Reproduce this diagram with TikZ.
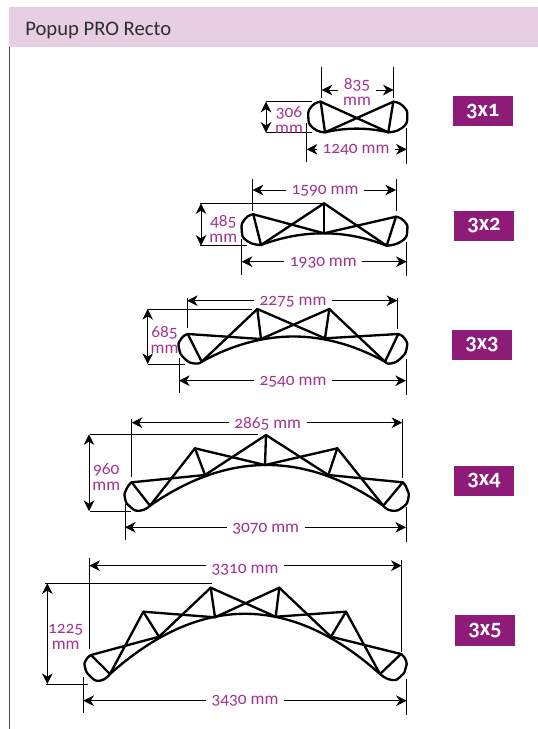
\documentclass[tikz,border=0pt]{standalone}
\usepackage{fontspec}
\setmainfont{Carlito}[Numbers=OldStyle]
\usetikzlibrary{arrows.meta}
\definecolor{band}{HTML}{E6CFE3}
\definecolor{badge}{HTML}{8E1B78}
\definecolor{lbl}{HTML}{A2338F}
\definecolor{ttl}{HTML}{2E2E2E}
\tikzset{
  truss/.style={line width=1.75pt,line join=round,line cap=round,black},
  extline/.style={line width=.75pt,black},
  dimarrow/.style={line width=.75pt,black,-{Stealth[length=8pt,width=8pt,inset=2.5pt]}},
  dimtwo/.style={line width=.75pt,black,{Stealth[length=8pt,width=8pt,inset=2.5pt]}-{Stealth[length=8pt,width=8pt,inset=2.5pt]}},
  dimlabel/.style={text=lbl,font=\fontsize{13}{12}\selectfont,align=center,inner sep=0pt,inner xsep=4pt,yshift=-.8pt},
  sizebadge/.style={fill=badge,text=white,font=\fontsize{17}{17}\bfseries\selectfont,minimum width=45pt,minimum height=22.7pt,inner sep=0pt},
}
% horizontal dimension: prefix, left x, right x, y, label position, text
\newcommand\hdim[6]{%
  \coordinate (#1l) at (#2,#4);\coordinate (#1r) at (#3,#4);
  \node[dimlabel] (#1t) at (#5) {#6};
  \draw[dimarrow] (#1t.west |- #1l) -- (#1l);
  \draw[dimarrow] (#1t.east |- #1r) -- (#1r);}
% extension line: prefix, from, to
\newcommand\extl[3]{%
  \coordinate (#1a) at (#2);\coordinate (#1b) at (#3);
  \draw[extline] (#1a) -- (#1b);}
\newcommand\tr[2]{\draw[truss] (#1) -- (#2);}
\newcommand\lobe[1]{\draw[truss] plot[smooth,tension=1] coordinates {#1};}
\begin{document}
\begin{tikzpicture}[x=.75pt,y=-.75pt]
\useasboundingbox (0,0) rectangle (538,729);
\fill[white] (0,0) rectangle (538,729);
\node[fill=band,minimum width=396.75pt,minimum height=30pt,inner sep=0pt,anchor=north west] (head) at (9,7) {};
\node[anchor=west,text=ttl,font=\fontsize{15.5}{15.5}\selectfont,inner sep=0pt] (title) at (25,30) {Popup PRO Recto};
\coordinate (ra) at (9.5,47);\coordinate (rb) at (9.5,729);
\draw[line width=.75pt,black!70] (ra) -- (rb);

% ---------- 3x1
\coordinate (aLT) at (320.7,101.7);\coordinate (aLB) at (325,132.3);
\coordinate (aRT) at (393.3,101.7);\coordinate (aRB) at (388.3,132.3);
\lobe{(320.7,101.7)(312,106)(308.3,116.7)(313,128)(325,132.3)}
\lobe{(393.3,101.7)(403,106)(407.3,116.7)(402,128)(388.3,132.3)}
\draw[truss] (aLB) .. controls (346,127.4) and (367,127.4) .. (aRB);
\tr{aLT}{aLB}\tr{aRT}{aRB}\tr{aLT}{aRB}\tr{aRT}{aLB}
\extl{ae1}{321.7,66.7}{321.7,98.3}\extl{ae2}{393.7,66.7}{393.7,98.3}
\hdim{at}{321.7}{393.7}{90}{357,91}{835\\mm}
\extl{ae3}{266,101.7}{311.7,101.7}\extl{ae4}{266,132.7}{312,132.7}
\coordinate (avt) at (266,101.7);\coordinate (avb) at (266,132.7);
\draw[dimtwo] (avt) -- (avb);
\node[dimlabel] (avl) at (289,119) {306\\mm};
\extl{ae5}{306.7,123}{306.7,162.3}\extl{ae6}{406.7,128}{406.7,164.3}
\hdim{ab}{306.7}{406.7}{149.3}{356,148.5}{1240 mm}
\node[sizebadge] (b1) at (482.7,111.3) {3x1};

% ---------- 3x2
\coordinate (bLT) at (253.3,214.3);\coordinate (bLB) at (261,245);
\coordinate (bRT) at (396,216.7);\coordinate (bRB) at (386.7,245.7);
\coordinate (bA) at (324,203.3);\coordinate (bM) at (324,233.3);
\lobe{(253.3,214.3)(245,219)(241.7,230)(247,241)(261,245)}
\lobe{(396,216.7)(404,221)(407.3,230)(402,241)(386.7,245.7)}
\draw[truss] (bLB) .. controls (303,229.3) and (345,229.3) .. (bRB);
\tr{bLT}{bLB}\tr{bRT}{bRB}\tr{bLB}{bA}\tr{bA}{bRB}\tr{bA}{bM}\tr{bLT}{bM}\tr{bRT}{bM}
\extl{be1}{252.7,179.3}{252.7,210.7}\extl{be2}{396,179.3}{396,210.7}
\hdim{bt}{252.7}{396}{190}{325,189.3}{1590 mm}
\extl{be3}{200,203.3}{321.7,203.3}\extl{be4}{200,245.7}{247.3,245.7}
\coordinate (bvt) at (201,203.3);\coordinate (bvb) at (201,245.7);
\draw[dimtwo] (bvt) -- (bvb);
\node[dimlabel] (bvl) at (223.3,228) {485\\mm};
\extl{be5}{241.7,239.3}{241.7,275}\extl{be6}{406.7,241.7}{406.7,276}
\hdim{bb}{241.7}{406.7}{261.7}{323.3,261.7}{1930 mm}
\node[sizebadge] (b2) at (484,226) {3x2};

% ---------- 3x3
\coordinate (cLT) at (187.7,334);\coordinate (cLB) at (201.7,361.7);
\coordinate (cRT) at (398.3,334);\coordinate (cRB) at (385,361.7);
\coordinate (cA1) at (257.3,309);\coordinate (cA2) at (329.3,309);
\coordinate (cM1) at (261,339);\coordinate (cM2) at (325,338.3);
\lobe{(187.7,334)(181,339)(179,348.3)(185,359)(195,363.5)(201.7,361.7)}
\lobe{(398.3,334)(405,339)(406.7,348.3)(401,358)(391,363.5)(385,361.7)}
\draw[truss] (cLB) .. controls (262.8,328.1) and (323.9,328.1) .. (cRB);
\tr{cLT}{cLB}\tr{cRT}{cRB}\tr{cLT}{cM1}\tr{cRT}{cM2}
\tr{cA1}{cLB}\tr{cA1}{cM1}\tr{cA1}{cM2}\tr{cA2}{cM1}\tr{cA2}{cM2}\tr{cA2}{cRB}
\extl{ce1}{187,297.7}{187,328.3}\extl{ce2}{397.3,298.3}{397.3,329}
\hdim{ct}{187}{397.3}{300.7}{293,300.7}{2275 mm}
\extl{ce3}{148.3,309}{251.7,309}\extl{ce4}{148.3,364}{185,364}
\coordinate (cvt) at (147.7,309);\coordinate (cvb) at (147.7,364);
\draw[dimtwo] (cvt) -- (cvb);
\node[dimlabel] (cvl) at (164.5,338.5) {685\\mm};
\extl{ce5}{179,357.7}{179,393.3}\extl{ce6}{406,359}{406,395}
\hdim{cb}{179}{406}{380.7}{293,380.7}{2540 mm}
\node[sizebadge] (b3) at (482,345) {3x3};

% ---------- 3x4
\coordinate (dLT) at (131.7,482.3);\coordinate (dLB) at (150,505.7);
\coordinate (dRT) at (402.7,482.3);\coordinate (dRB) at (383.3,505.7);
\coordinate (dA1) at (195,448.3);\coordinate (dA2) at (266,435);\coordinate (dA3) at (337.3,448.3);
\coordinate (dM1) at (205,475);\coordinate (dM2) at (265,465);\coordinate (dM3) at (328.3,475);
\lobe{(131.7,482.3)(126.5,489)(125,498.3)(130.5,507)(140,510.7)(150,505.7)}
\lobe{(402.7,482.3)(407,489)(408.3,498.3)(403,507)(392,510.7)(383.3,505.7)}
\draw[truss] (dLB) .. controls (227.8,451.4) and (305.5,451.4) .. (dRB);
\tr{dLT}{dLB}\tr{dRT}{dRB}\tr{dLT}{dM1}\tr{dRT}{dM3}
\tr{dA1}{dLB}\tr{dA1}{dM1}\tr{dA1}{dM2}\tr{dA2}{dM1}\tr{dA2}{dM2}\tr{dA2}{dM3}
\tr{dA3}{dM2}\tr{dA3}{dM3}\tr{dA3}{dRB}
\extl{de1}{131.7,419}{131.7,476.7}\extl{de2}{402.3,419}{402.3,477.7}
\hdim{dt}{131.7}{402.3}{422.7}{267.7,422.3}{2865 mm}
\extl{de3}{90,434.3}{258.3,434.3}\extl{de4}{90,511}{130.7,511}
\coordinate (dvt) at (89,434.3);\coordinate (dvb) at (89,511);
\draw[dimtwo] (dvt) -- (dvb);
\node[dimlabel] (dvl) at (106.3,475.5) {960\\mm};
\extl{de5}{125,504.3}{125,540}\extl{de6}{406,506.7}{406,541.7}
\hdim{db}{125}{406}{527.3}{265.7,527.3}{3070 mm}
\node[sizebadge] (b4) at (484,481) {3x4};

% ---------- 3x5
\coordinate (eLT) at (91,655);\coordinate (eLB) at (110,674);
\coordinate (eRT) at (401,654);\coordinate (eRB) at (380,674);
\coordinate (eA1) at (143.3,611.7);\coordinate (eA2) at (210.7,587.7);
\coordinate (eA3) at (279.3,587.7);\coordinate (eA4) at (346,611.7);
\coordinate (eM1) at (159,636.7);\coordinate (eM2) at (215,617.3);
\coordinate (eM3) at (275.7,616.7);\coordinate (eM4) at (331,636.7);
\lobe{(91,655)(86,660)(85,667)(90,676)(100,680.7)(110,674)}
\lobe{(401,654)(405.7,660)(405.7,668)(401,676)(391.7,680)(380,674)}
\draw[truss] (eLB) .. controls (200,593.7) and (290,593.7) .. (eRB);
\tr{eLT}{eLB}\tr{eRT}{eRB}\tr{eLT}{eM1}\tr{eRT}{eM4}
\tr{eA1}{eLB}\tr{eA1}{eM1}\tr{eA1}{eM2}\tr{eA2}{eM1}\tr{eA2}{eM2}\tr{eA2}{eM3}
\tr{eA3}{eM2}\tr{eA3}{eM3}\tr{eA3}{eM4}\tr{eA4}{eM3}\tr{eA4}{eM4}\tr{eA4}{eRB}
\extl{ee1}{89.3,558.3}{89.3,649.3}\extl{ee2}{401.7,560}{401.7,651.7}
\hdim{et}{89.3}{401.7}{565.7}{245,568.3}{3310 mm}
\extl{ee3}{45,583.3}{211.7,583.3}\extl{ee4}{46,684}{88.3,684}
\coordinate (evt) at (47.3,583.3);\coordinate (evb) at (47.3,684);
\draw[dimtwo] (evt) -- (evb);
\node[dimlabel] (evl) at (65.7,636) {1225\\mm};
\extl{ee5}{83.3,676.7}{83.3,713.3}\extl{ee6}{406.7,679.3}{406.7,715}
\hdim{eb}{83.3}{406.7}{700.7}{245,700}{3430 mm}
\node[sizebadge] (b5) at (485,630.5) {3x5};
\end{tikzpicture}
\end{document}
